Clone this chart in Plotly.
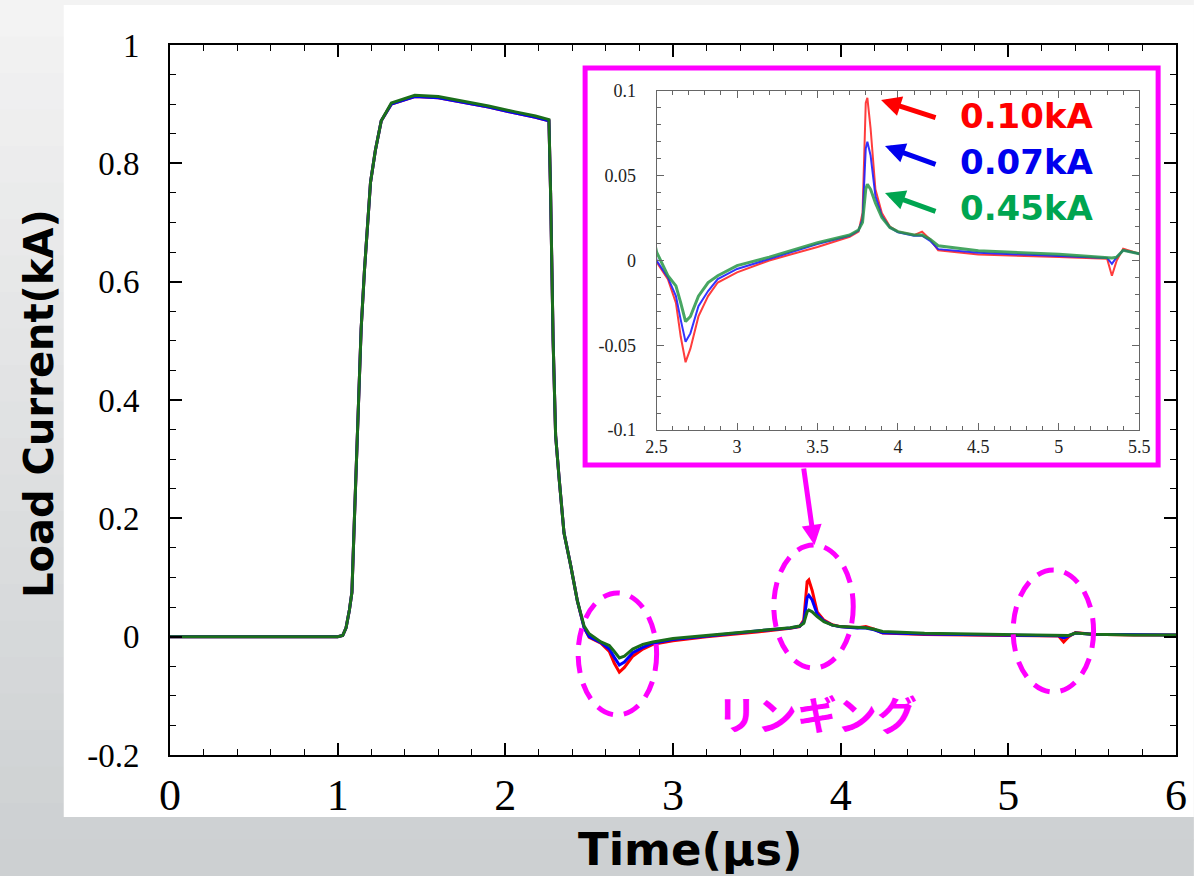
import plotly.graph_objects as go

# ---------------- data ----------------
time_us = [0.0, 0.5, 1.0, 1.03, 1.05, 1.07, 1.085, 1.10, 1.12, 1.14, 1.16, 1.17,
           1.196, 1.225, 1.244, 1.26, 1.32, 1.46, 1.6, 1.76, 1.9, 2.06, 2.18, 2.26,
           2.27, 2.285, 2.30, 2.32, 2.35, 2.39, 2.43, 2.47, 2.50, 2.57, 2.62, 2.65,
           2.68, 2.71, 2.76, 2.82, 2.88, 3.0, 3.2, 3.5, 3.7, 3.755, 3.78, 3.80, 3.81,
           3.83, 3.86, 3.90, 3.95, 4.0, 4.1, 4.15, 4.2, 4.25, 4.5, 5.0, 5.3, 5.33,
           5.36, 5.4, 5.5, 5.75, 6.0]

current_red = [0.0, 0.0, 0.0, 0.002, 0.015, 0.045, 0.075, 0.2, 0.38, 0.52, 0.62, 0.66,
               0.768, 0.822, 0.853, 0.872, 0.900, 0.913, 0.911, 0.903, 0.895, 0.885, 0.878, 0.872,
               0.75, 0.5, 0.34, 0.27, 0.175, 0.12, 0.06, 0.015, -0.001, -0.011, -0.025, -0.045,
               -0.060, -0.052, -0.033, -0.021, -0.013, -0.007, 0.0, 0.008, 0.014, 0.017, 0.028, 0.093, 0.096,
               0.078, 0.042, 0.028, 0.020, 0.017, 0.015, 0.017, 0.0125, 0.006, 0.0035, 0.002, 0.001, -0.009,
               0.0, 0.007, 0.004, 0.003, 0.003]

current_blue = [0.0, 0.0, 0.0, 0.002, 0.015, 0.045, 0.075, 0.2, 0.38, 0.52, 0.62, 0.66,
                0.768, 0.822, 0.853, 0.872, 0.900, 0.913, 0.911, 0.903, 0.895, 0.885, 0.878, 0.872,
                0.75, 0.5, 0.34, 0.27, 0.175, 0.12, 0.06, 0.015, 0.0, -0.010, -0.021, -0.035,
                -0.048, -0.043, -0.027, -0.018, -0.011, -0.005, 0.001, 0.0097, 0.0146, 0.0176, 0.0245, 0.066, 0.070,
                0.062, 0.038, 0.0264, 0.0195, 0.0166, 0.0146, 0.0146, 0.0116, 0.0067, 0.0045, 0.0025, 0.0015, -0.002,
                0.002, 0.006, 0.004, 0.003, 0.003]

current_green = [0.0, 0.0, 0.0, 0.002, 0.015, 0.045, 0.075, 0.2, 0.38, 0.52, 0.62, 0.66,
                 0.768, 0.822, 0.853, 0.872, 0.902, 0.915, 0.913, 0.905, 0.897, 0.887, 0.880, 0.874,
                 0.75, 0.5, 0.34, 0.27, 0.175, 0.12, 0.06, 0.018, 0.005, -0.009, -0.015, -0.025,
                 -0.036, -0.033, -0.021, -0.013, -0.009, -0.003, 0.002, 0.0105, 0.015, 0.018, 0.0225, 0.042, 0.045,
                 0.042, 0.034, 0.0254, 0.0195, 0.017, 0.015, 0.015, 0.0126, 0.0087, 0.0057, 0.0037, 0.0018, 0.0015,
                 0.002, 0.006, 0.004, 0.003, 0.003]

main_x_ticks = [0, 1, 2, 3, 4, 5, 6]
main_x_labels = ["0", "1", "2", "3", "4", "5", "6"]
main_y_ticks = [-0.2, 0, 0.2, 0.4, 0.6, 0.8, 1.0]
main_y_labels = ["-0.2", "0", "0.2", "0.4", "0.6", "0.8", "1"]
inset_x_ticks = [2.5, 3, 3.5, 4, 4.5, 5, 5.5]
inset_x_labels = ["2.5", "3", "3.5", "4", "4.5", "5", "5.5"]
inset_y_ticks = [-0.1, -0.05, 0, 0.05, 0.1]
inset_y_labels = ["-0.1", "-0.05", "0", "0.05", "0.1"]
peak_labels = ["0.10kA", "0.07kA", "0.45kA"]

# ---------------- layout helpers ----------------
W, H = 1199, 876
L, R, T, B = 170, 1183, 45, 755


def px(x):
    return (x - L) / (R - L)


def py(y):
    return (B - y) / (B - T)


MAG = "#ff00ff"
fig = go.Figure()

# main traces
main_cols = ["#ff0000", "#0000ff", "#1b6e1b"]
for ys, c in zip([current_red, current_blue, current_green], main_cols):
    fig.add_trace(go.Scatter(x=time_us, y=ys, mode="lines",
                             line=dict(color=c, width=3), xaxis="x", yaxis="y",
                             showlegend=False, hoverinfo="skip"))

# inset traces
inset_cols = ["rgba(255,40,40,0.9)", "rgba(30,30,255,0.9)", "rgba(40,150,70,0.85)"]
inset_w = [2, 2, 3]
for ys, c, w in zip([current_red, current_blue, current_green], inset_cols, inset_w):
    fig.add_trace(go.Scatter(x=time_us, y=ys, mode="lines",
                             line=dict(color=c, width=w), xaxis="x2", yaxis="y2",
                             showlegend=False, hoverinfo="skip"))

shapes = []
# background gradient
top_c = (243, 243, 243)
bot_c = (205, 208, 210)
nb = 24
for i in range(nb):
    f = i / (nb - 1)
    c = tuple(int(top_c[k] + (bot_c[k] - top_c[k]) * f) for k in range(3))
    y0 = H * i / nb
    y1 = H * (i + 1) / nb + 1
    shapes.append(dict(type="rect", xref="paper", yref="paper",
                       x0=px(-2), x1=px(W + 2), y0=py(y1), y1=py(y0),
                       fillcolor="rgb(%d,%d,%d)" % c, line=dict(width=0), layer="below"))
# white panel
shapes.append(dict(type="rect", xref="paper", yref="paper",
                   x0=px(63), x1=px(W + 2), y0=py(817), y1=py(5),
                   fillcolor="white", line=dict(width=0), layer="below"))
# inset frame
shapes.append(dict(type="rect", xref="paper", yref="paper",
                   x0=px(588), x1=px(1165), y0=py(465), y1=py(68),
                   fillcolor="white", line=dict(color=MAG, width=5), layer="below"))
# dashed ellipses
for (x0, x1, y0, y1) in [(581, 660, 593, 715), (778, 858, 545, 668), (1019, 1100, 570, 692)]:
    shapes.append(dict(type="circle", xref="paper", yref="paper",
                       x0=px(x0), x1=px(x1), y0=py(y1), y1=py(y0),
                       line=dict(color=MAG, width=5, dash="17px,11px"), layer="above"))

annotations = []
# axis titles
annotations.append(dict(text="<b>Load Current(kA)</b>", xref="paper", yref="paper",
                        x=px(38), y=py(403), textangle=-90, showarrow=False,
                        xanchor="center", yanchor="middle",
                        font=dict(family="DejaVu Sans", size=40, color="black")))
annotations.append(dict(text="<b>Time(μs)</b>", xref="paper", yref="paper",
                        x=px(694), y=py(849), showarrow=False,
                        xanchor="center", yanchor="middle",
                        font=dict(family="DejaVu Sans", size=45, color="black")))
# ringing label
annotations.append(dict(text="<b>リンギング</b>", xref="paper", yref="paper",
                        x=px(822), y=py(713), showarrow=False,
                        xanchor="center", yanchor="middle",
                        font=dict(family="Noto Sans CJK JP", size=40, color=MAG)))
# arrow from inset to ellipse
annotations.append(dict(text="", xref="paper", yref="paper", x=px(819), y=py(545),
                        ax=-11, ay=-78, showarrow=True, arrowcolor=MAG,
                        arrowwidth=5, arrowhead=2, arrowsize=0.8))
# peak labels with arrows
lab_cols = ["#ff0000", "#0000ee", "#00a550"]
lab_y = [116, 162, 208]
tips = [(886, 100), (890, 146), (890, 193)]
tails = [(942, 118), (942, 165), (942, 212)]
for txt, c, yy, tp, tl in zip(peak_labels, lab_cols, lab_y, tips, tails):
    annotations.append(dict(text="<b>" + txt + "</b>", xref="paper", yref="paper",
                            x=px(963), y=py(yy), showarrow=False,
                            xanchor="left", yanchor="middle",
                            font=dict(family="DejaVu Sans", size=34, color=c)))
    annotations.append(dict(text="", xref="paper", yref="paper", x=px(tp[0]), y=py(tp[1]),
                            ax=tl[0] - tp[0], ay=tl[1] - tp[1], showarrow=True,
                            arrowcolor=c, arrowwidth=5, arrowhead=2, arrowsize=0.8))

serif = "Liberation Serif"
fig.update_layout(
    width=W, height=H,
    margin=dict(l=L, r=W - R, t=T, b=H - B, pad=0),
    paper_bgcolor="white", plot_bgcolor="rgba(0,0,0,0)",
    showlegend=False,
    shapes=shapes, annotations=annotations,
    xaxis=dict(domain=[0, 1], range=[0, 6], tickmode="array", tickvals=main_x_ticks,
               ticktext=main_x_labels, ticks="inside", ticklen=12, tickwidth=1.5,
               tickcolor="black", showline=True, linewidth=2, linecolor="black",
               mirror="allticks", showgrid=False, zeroline=False,
               minor=dict(tickmode="linear", tick0=0, dtick=0.2, ticks="inside",
                          ticklen=6, tickwidth=1.2, tickcolor="black"),
               tickfont=dict(family=serif, size=44, color="black"), anchor="y"),
    yaxis=dict(domain=[0, 1], range=[-0.2, 1.0], tickmode="array", tickvals=main_y_ticks,
               ticktext=main_y_labels, ticks="inside", ticklen=12, tickwidth=1.5,
               tickcolor="black", showline=True, linewidth=2, linecolor="black",
               mirror="allticks", showgrid=False, zeroline=False,
               minor=dict(tickmode="linear", tick0=0, dtick=0.05, ticks="inside",
                          ticklen=6, tickwidth=1.2, tickcolor="black"),
               ticklabelstandoff=22,
               tickfont=dict(family=serif, size=33, color="black"), anchor="x"),
    xaxis2=dict(domain=[px(660), px(1146)], range=[2.5, 5.5], tickmode="array",
                tickvals=inset_x_ticks, ticktext=inset_x_labels, ticks="inside",
                ticklen=7, tickwidth=1, tickcolor="#666", showline=True, linewidth=1.2,
                linecolor="#666", mirror="allticks", showgrid=False, zeroline=False,
                minor=dict(tickmode="linear", tick0=2.5, dtick=0.1, ticks="inside",
                           ticklen=4, tickwidth=1, tickcolor="#666"),
                tickfont=dict(family=serif, size=18, color="#222"), anchor="y2"),
    yaxis2=dict(domain=[py(430), py(91)], range=[-0.1, 0.1], tickmode="array",
                tickvals=inset_y_ticks, ticktext=inset_y_labels, ticks="inside",
                ticklen=7, tickwidth=1, tickcolor="#666", showline=True, linewidth=1.2,
                linecolor="#666", mirror="allticks", showgrid=False, zeroline=False,
                minor=dict(tickmode="linear", tick0=0, dtick=0.01, ticks="inside",
                           ticklen=4, tickwidth=1, tickcolor="#666"),
                ticklabelstandoff=16,
                tickfont=dict(family=serif, size=18, color="#222"), anchor="x2"),
)

fig.write_html("out.html", config={"displayModeBar": False},
               post_script="document.body.style.margin='0';document.body.style.overflow='hidden';")
